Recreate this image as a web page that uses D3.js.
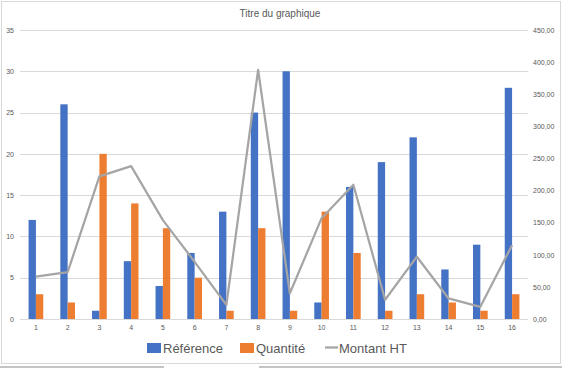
<!DOCTYPE html>
<html>
<head>
<meta charset="utf-8">
<script src="https://cdn.jsdelivr.net/npm/d3@7"></script>
<style>
  body { margin: 0; background: #fff; }
  svg { display: block; font-family: "Liberation Sans", "DejaVu Sans", sans-serif; }
</style>
</head>
<body>
<script>
const wid = 562, hei = 368;     // width & height
const categories = ['1','2','3','4','5','6','7','8','9','10','11','12','13','14','15','16'];
const reference = [12, 26, 1, 7, 4, 8, 13, 25, 30, 2, 16, 19, 22, 6, 9, 28];
const quantite  = [3, 2, 20, 14, 11, 5, 1, 11, 1, 13, 8, 1, 3, 2, 1, 3];
const montantHT = [66, 73, 222, 238, 154, 89, 22, 388, 40, 157, 209, 30, 97, 32, 19, 115];
const leftTicks  = [0, 5, 10, 15, 20, 25, 30, 35];
const rightTicks = [0, 50, 100, 150, 200, 250, 300, 350, 400, 450];
const seriesNames = ['Référence', 'Quantité', 'Montant HT'];

const blue = '#4472C4', orange = '#ED7D31', grey = '#A5A5A5', txt = '#595959';

let svg = d3.select('body').append('svg')
    .attr('width', wid)
    .attr('height', hei);

// spreadsheet lines under the chart
svg.append('line').attr('x1', 0).attr('x2', 164).attr('y1', 367).attr('y2', 367)
    .attr('stroke', '#b0b0b0').attr('stroke-width', 1.5);
svg.append('line').attr('x1', 259).attr('x2', wid).attr('y1', 367).attr('y2', 367)
    .attr('stroke', '#b0b0b0').attr('stroke-width', 1.5);

// chart border
svg.append('rect')
    .attr('x', 1.5).attr('y', 1.5)
    .attr('width', 559).attr('height', 362)
    .attr('fill', '#fff')
    .attr('stroke', '#d9d9d9');

const plotL = 20, plotR = 528, plotT = 30, plotB = 319;

let x = d3.scaleBand()
    .domain(categories)
    .range([plotL, plotR])
    .paddingInner(0.5375)
    .paddingOuter(0.27);

let xSub = d3.scaleBand()
    .domain(['ref', 'qte'])
    .range([0, x.bandwidth()]);

let yL = d3.scaleLinear().domain([0, 35]).range([plotB, plotT]);
let yR = d3.scaleLinear().domain([0, 450]).range([plotB, plotT]);

// gridlines
svg.append('g').selectAll('line')
    .data(leftTicks)
    .enter()
    .append('line')
    .attr('x1', plotL).attr('x2', plotR)
    .attr('y1', d => Math.round(yL(d)) + 0.5)
    .attr('y2', d => Math.round(yL(d)) + 0.5)
    .attr('stroke', '#d9d9d9');

// left axis
let axL = svg.append('g')
    .attr('transform', `translate(${plotL - 6},0)`)
    .call(d3.axisLeft(yL).tickValues(leftTicks).tickSize(0).tickPadding(0));
// right axis
let axR = svg.append('g')
    .attr('transform', `translate(${plotR + 5},0)`)
    .call(d3.axisRight(yR).tickValues(rightTicks).tickSize(0).tickPadding(0)
        .tickFormat(d => d3.format('.2f')(d).replace('.', ',')));
// bottom axis
let axB = svg.append('g')
    .attr('transform', `translate(0,${plotB + 5})`)
    .call(d3.axisBottom(x).tickSize(0).tickPadding(0));

[axL, axR, axB].forEach(a => {
    a.select('.domain').remove();
    a.selectAll('text')
        .attr('fill', txt)
        .style('font-size', '7px')
        .style('font-family', '"Liberation Sans", sans-serif');
});
axB.selectAll('text').attr('dy', '0.9em');

// bars
let groups = svg.append('g').selectAll('g')
    .data(categories)
    .enter()
    .append('g')
    .attr('transform', d => `translate(${x(d)},0)`);

groups.append('rect')
    .attr('x', xSub('ref'))
    .attr('width', xSub.bandwidth())
    .attr('y', (d, i) => yL(reference[i]))
    .attr('height', (d, i) => yL(0) - yL(reference[i]))
    .attr('fill', blue);

groups.append('rect')
    .attr('x', xSub('qte'))
    .attr('width', xSub.bandwidth())
    .attr('y', (d, i) => yL(quantite[i]))
    .attr('height', (d, i) => yL(0) - yL(quantite[i]))
    .attr('fill', orange);

// line on secondary axis
let line = d3.line()
    .x((d, i) => x(categories[i]) + x.bandwidth() / 2)
    .y(d => yR(d));

svg.append('path')
    .datum(montantHT)
    .attr('d', line)
    .attr('fill', 'none')
    .attr('stroke', grey)
    .attr('stroke-width', 2.25)
    .attr('stroke-linejoin', 'round');

// title
svg.append('text')
    .text('Titre du graphique')
    .attr('x', 280)
    .attr('y', 17)
    .attr('text-anchor', 'middle')
    .attr('fill', txt)
    .style('font-size', '10px');

// legend
let lg = svg.append('g').style('font-size', '13px');
const legX = [147, 240, 325];
lg.append('rect').attr('x', legX[0]).attr('y', 343).attr('width', 14).attr('height', 10).attr('fill', blue);
lg.append('rect').attr('x', legX[1]).attr('y', 343).attr('width', 14).attr('height', 10).attr('fill', orange);
lg.append('line').attr('x1', legX[2]).attr('x2', legX[2] + 13).attr('y1', 347.5).attr('y2', 347.5)
    .attr('stroke', grey).attr('stroke-width', 2.25);
lg.selectAll('text')
    .data(seriesNames)
    .enter()
    .append('text')
    .text(d => d)
    .attr('x', (d, i) => legX[i] + (i < 2 ? 16 : 14))
    .attr('y', 352.5)
    .attr('fill', txt);
</script>
</body>
</html>
